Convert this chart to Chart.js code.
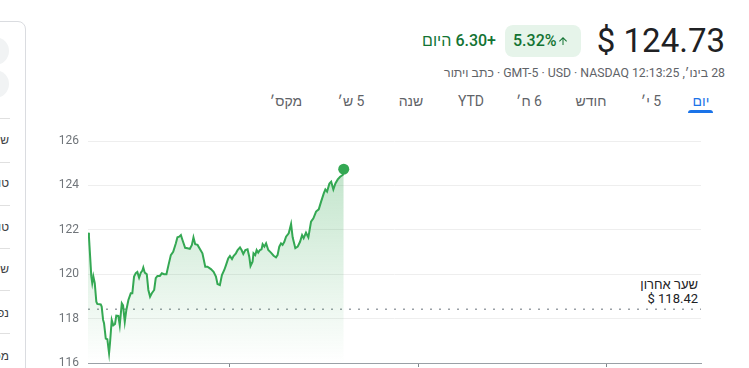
<!DOCTYPE html>
<html lang="he">
<head>
<meta charset="utf-8">
<script src="https://cdn.jsdelivr.net/npm/chart.js@4.4.1/dist/chart.umd.min.js"></script>
<style>
html,body{margin:0;padding:0;width:749px;height:368px;overflow:hidden;background:#fff;
  font-family:Roboto,"Liberation Sans",Arial,sans-serif;}
.a{position:absolute;white-space:nowrap;}
.tab{position:absolute;top:91px;width:100px;text-align:center;line-height:20px;font-size:14px;font-weight:400;color:#5f6368;white-space:nowrap;}
.row{position:absolute;right:740px;font-size:12px;color:#3c4043;line-height:14px;white-space:nowrap;}
.div{position:absolute;left:0;width:10px;height:1px;background:#e0e0e0;}
</style>
</head>
<body>
<!-- left side card -->
<div class="a" style="left:-200px;top:21px;width:226px;height:420px;border:1px solid #dadce0;border-radius:8px;box-sizing:border-box;"></div>
<div class="a" style="left:-19px;top:37px;width:28px;height:28px;border-radius:50%;background:#f1f3f4;"></div>
<div class="a" style="left:-19px;top:70px;width:28px;height:28px;border-radius:50%;background:#f1f3f4;"></div>
<div class="div" style="top:118px"></div>
<div class="div" style="top:162px"></div>
<div class="div" style="top:205px"></div>
<div class="div" style="top:248px"></div>
<div class="div" style="top:290px"></div>
<div class="div" style="top:333px"></div>
<div class="row" dir="rtl" style="top:133px">שער אחרון</div>
<div class="row" dir="rtl" style="top:176px">טווח יומי</div>
<div class="row" dir="rtl" style="top:220px">טווח שנתי</div>
<div class="row" dir="rtl" style="top:262px">שווי שוק</div>
<div class="row" dir="rtl" style="top:306px">נפח ממוצע</div>
<div class="row" dir="rtl" style="top:349px">מכפיל רווח</div>

<!-- header -->
<div class="a" dir="ltr" style="right:24px;top:24px;font-size:33px;line-height:33px;color:#202124;">$ 124.73</div>
<div class="a" style="left:505px;top:25px;width:76px;height:32px;border-radius:8px;background:#e6f4ea;"></div>
<div class="a" dir="ltr" style="left:513px;top:31px;font-size:16px;line-height:20px;font-weight:500;color:#137333;">5.32%</div>
<svg class="a" style="left:557px;top:35px" width="12" height="12" viewBox="0 0 24 24"><path fill="#137333" d="M4 12l1.41 1.41L11 7.83V20h2V7.83l5.58 5.59L20 12l-8-8-8 8z"/></svg>
<div class="a" dir="rtl" style="right:253px;top:31px;font-size:16px;line-height:20px;font-weight:500;color:#137333;">+6.30 היום</div>
<div class="a" dir="rtl" style="right:24px;top:66px;font-size:12.3px;line-height:14px;color:#5f6368;">28 בינו׳, 12:13:25 GMT-5 · USD · NASDAQ · כתב ויתור</div>

<!-- tabs -->
<div class="tab" dir="rtl" style="left:236px">מקס׳</div>
<div class="tab" dir="rtl" style="left:301px">5 ש׳</div>
<div class="tab" dir="rtl" style="left:361px">שנה</div>
<div class="tab" dir="rtl" style="left:421px">YTD</div>
<div class="tab" dir="rtl" style="left:479px">6 ח׳</div>
<div class="tab" dir="rtl" style="left:541px">חודש</div>
<div class="tab" dir="rtl" style="left:601px">5 י׳</div>
<div class="tab" dir="rtl" style="left:651px;color:#1a73e8">יום</div>
<div class="a" style="left:688px;top:110px;width:25px;height:3px;border-radius:3px 3px 0 0;background:#1a73e8;"></div>

<!-- previous close label -->
<div class="a" dir="rtl" style="right:51px;top:278px;font-size:13px;line-height:14px;color:#202124;text-align:right;">שער אחרון</div>
<div class="a" dir="ltr" style="right:51px;top:292px;font-size:13px;line-height:14px;color:#202124;text-align:right;">$ 118.42</div>

<canvas id="c" width="749" height="283" style="position:absolute;left:0;top:120px;"></canvas>
<script>
// minutes since 09:30 market open
const minutes = [0,0.6,2.1,2.7,3.4,4.3,5.3,5.9,8.1,8.7,9.6,10.2,11.3,12.3,13.4,14.0,15.1,16.1,17.2,18.0,19.3,20.2,21.5,22.3,23.4,24.4,25.7,27.2,28.2,29.3,30.4,31.4,32.5,33.6,34.6,35.2,36.1,37.4,38.4,39.5,40.6,42.1,43.1,44.2,45.7,47.0,48.4,49.9,51.2,52.7,54.2,55.9,56.9,58.0,59.1,60.1,61.8,63.3,64.8,66.1,67.1,68.2,69.7,71.2,72.8,74.6,76.0,78.2,79.9,81.4,82.4,83.9,85.2,86.7,87.8,89.2,90.3,91.6,92.6,94.1,95.2,96.7,97.7,98.8,100.1,101.5,102.6,103.4,104.7,105.3,106.4,107.3,108.3,109.4,110.4,111.1,112.2,113.3,114.7,116.4,118.1,119.6,120.6,121.7,122.8,123.8,124.9,126.0,127.7,129.2,130.2,131.9,133.4,134.9,136.2,137.2,138.7,140.2,141.9,143.4,145.1,146.8,148.3,150.0,151.0,152.1,153.6,154.7,156.1,157.4,158.9,160.4,162.1,162.7];
const prices = [121.87,121.7,119.9,119.6,119.9,119.6,118.76,118.66,118.64,118.54,117.94,117.79,117.1,117.07,116.44,116.9,117.94,117.7,117.76,118.13,118.12,117.7,118.69,118.6,117.86,118.39,118.84,119.14,119.14,119.89,120.05,120.1,119.84,120.07,120.16,120.3,120.07,120.0,119.29,118.99,119.14,119.29,119.82,119.92,119.92,120.04,120.0,120.0,120.41,120.86,121.01,121.39,121.66,121.69,121.76,121.54,121.19,121.17,121.14,121.32,121.66,121.35,121.32,121.14,120.94,120.34,120.34,120.23,120.11,119.89,119.56,119.51,119.96,120.19,120.41,120.71,120.82,120.68,120.82,120.94,121.09,121.21,121.09,120.91,121.09,121.12,120.79,120.37,120.56,120.94,120.86,121.09,120.97,121.09,121.12,121.35,121.24,121.39,121.09,120.97,120.83,120.76,120.86,121.24,121.39,121.32,121.46,121.69,121.84,122.26,121.66,121.17,121.24,121.46,121.76,121.62,121.87,121.66,122.37,122.52,122.82,122.92,123.27,123.64,123.82,123.72,124.09,124.17,123.82,124.09,124.27,124.39,124.47,124.73];
const prevClose = 118.42;
const sessionMinutes = [0, 390];
const yTicks = [116,118,120,122,124,126];
const xTickMinutes = [90,210,330]; // 11:00, 13:00, 15:00

const lineData = minutes.map((m,i)=>({x:m,y:prices[i]}));
const prevData = sessionMinutes.map(m=>({x:m,y:prevClose}));

new Chart(document.getElementById('c'), {
  type:'line',
  data:{datasets:[
    {data:lineData, borderColor:'#34a853', borderWidth:2, tension:0, order:1,
     fill:'start',
     backgroundColor:(c)=>{const {ctx,chartArea}=c.chart; if(!chartArea) return 'rgba(52,168,83,0.15)';
       const g=ctx.createLinearGradient(0,chartArea.top,0,chartArea.bottom);
       g.addColorStop(0,'rgba(52,168,83,0.34)'); g.addColorStop(1,'rgba(52,168,83,0)'); return g;},
     pointRadius:(c)=>c.dataIndex===prices.length-1?5.5:0,
     pointHoverRadius:0, pointBackgroundColor:'#34a853', pointBorderWidth:0},
    {data:prevData, borderColor:'#9aa0a6', borderWidth:1.5, borderDash:[2,7], pointRadius:0, fill:false, order:2}
  ]},
  options:{
    responsive:false, animation:false, devicePixelRatio:1,
    layout:{padding:{top:21,right:48,left:0,bottom:0}},
    plugins:{legend:{display:false},tooltip:{enabled:false}},
    scales:{
      x:{type:'linear',min:0,max:390,
         afterBuildTicks:s=>{s.ticks=xTickMinutes.map(v=>({value:v}));},
         ticks:{display:false},
         grid:{drawOnChartArea:false,drawTicks:true,tickLength:4,color:'#80868b'},
         border:{display:true,color:'#9aa0a6',width:1},
         afterFit:s=>{s.height=40;}},
      y:{min:116,max:126,
         afterBuildTicks:s=>{s.ticks=yTicks.map(v=>({value:v}));},
         ticks:{color:'#70757a',font:{family:'Roboto',size:12},padding:9},
         grid:{color:'#eeeeee',drawTicks:false},
         border:{display:false},
         afterFit:s=>{s.width=88;}}
    }
  }
});
</script>
</body>
</html>
